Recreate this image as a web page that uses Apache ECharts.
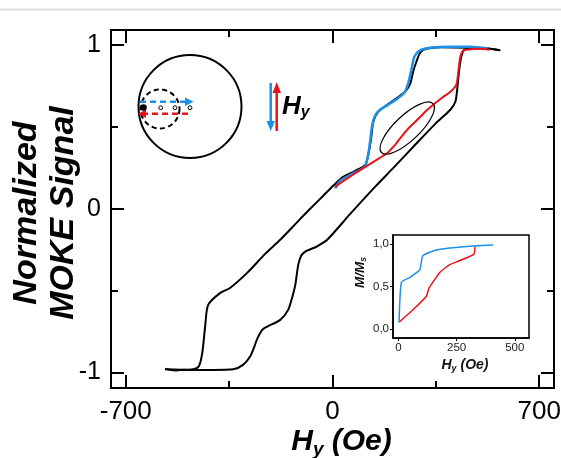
<!DOCTYPE html>
<html><head><meta charset="utf-8">
<script src="https://cdn.jsdelivr.net/npm/echarts@6/dist/echarts.min.js"></script>
<style>html,body{margin:0;padding:0;background:#fff}#c{width:561px;height:458px}</style>
</head><body><div id="c"></div>
<script>
// ---- Data ----
// Main loop, descending branch (H in Oe, normalized MOKE signal)
const hDesc = [568,534,466,365,317,297,284,273,263,246,219,185,155,138,131,121,111,77,36,6,-42,-109,-177,-228,-289,-347,-380,-421,-431,-441,-452,-472,-516,-533,-567];
const mDesc = [0.968,0.977,0.983,0.987,0.977,0.953,0.898,0.837,0.764,0.715,0.678,0.635,0.593,0.531,0.434,0.330,0.269,0.232,0.195,0.147,0.061,-0.061,-0.189,-0.275,-0.391,-0.483,-0.513,-0.586,-0.715,-0.880,-0.959,-0.980,-0.984,-0.987,-0.977];
// Main loop, ascending branch
const hAsc = [-567,-482,-404,-336,-303,-279,-265,-255,-238,-221,-177,-150,-137,-126,-116,-106,-92,-53,-18,60,144,206,280,348,399,416,422,429,436,446,483,534,568];
const mAsc = [-0.980,-0.984,-0.984,-0.980,-0.953,-0.902,-0.843,-0.794,-0.739,-0.719,-0.678,-0.617,-0.544,-0.464,-0.342,-0.287,-0.261,-0.230,-0.189,-0.031,0.134,0.250,0.391,0.519,0.605,0.654,0.727,0.849,0.929,0.971,0.980,0.977,0.968];
// Minor loop, blue branch
const hBlue = [9,26,60,94,111,121,128,134,144,161,188,219,243,256,267,277,294,331,398,466,524];
const mBlue = [0.125,0.171,0.208,0.238,0.263,0.330,0.421,0.507,0.568,0.605,0.635,0.672,0.709,0.764,0.849,0.929,0.965,0.983,0.990,0.990,0.980];
// Minor loop, red branch
const hRed = [9,43,94,144,182,212,233,256,287,314,341,371,399,419,426,432,439,453,500,531];
const mRed = [0.134,0.177,0.238,0.293,0.336,0.391,0.440,0.489,0.544,0.593,0.635,0.678,0.715,0.757,0.837,0.922,0.959,0.971,0.977,0.971];
// Inset M/Ms vs Hy
const insetBlueH = [3,13,50,81,93,104,129,179,279,407];
const insetBlueM = [0.08,0.55,0.61,0.67,0.70,0.86,0.90,0.94,0.97,0.99];
const insetRedH = [3,64,121,131,179,221,257,324,329];
const insetRedM = [0.08,0.23,0.39,0.48,0.67,0.76,0.80,0.88,0.97];
// Tick labels
const xMajorTicks = [-700,0,700];
const xMinorTicks = [-350,350];
const yMajorTicks = [-1,0,1];
const yMinorTicks = [-0.5,0.5];
const insetXTicks = [0,250,500];
const insetYTicks = [0,0.5,1];
// Ellipse annotation centre (data coords)
const ellipseCenter = [253,0.493];

const pairs = (a,b)=>a.map((v,i)=>[v,b[i]]);
const FONT = '"Liberation Sans", Arial, sans-serif';
const BLUE = '#1c8fe6', RED = '#e8141c';

const chart = echarts.init(document.getElementById('c'), null, {renderer:'canvas'});

function mainX(pos, ticks, len, withLabel, name){
  const ax = {type:'value', gridIndex:0, min:-750, max:750, position:pos,
    axisLine:{show:true, onZero:false, lineStyle:{color:'#000', width:2}},
    axisTick:{show:true, inside:true, length:len, customValues:ticks, lineStyle:{color:'#000', width:2}},
    axisLabel: withLabel ? {show:true, customValues:ticks, fontSize:26, color:'#000', margin:11, fontFamily:FONT} : {show:false},
    splitLine:{show:false}};
  if (name) {
    ax.name = '{a|H}{s|y}{a| (Oe)}';
    ax.nameLocation = 'middle';
    ax.nameGap = 37;
    ax.nameMoveOverlap = false;
    ax.nameTextStyle = {padding:[0,0,0,18], rich:{
      a:{fontSize:30, fontWeight:'bold', fontStyle:'italic', fontFamily:FONT, color:'#000', lineHeight:34},
      s:{fontSize:19, fontWeight:'bold', fontStyle:'italic', fontFamily:FONT, color:'#000', lineHeight:19, verticalAlign:'bottom'}}};
  }
  return ax;
}
function mainY(pos, ticks, len, withLabel, name){
  const ax = {type:'value', gridIndex:0, min:-1.094, max:1.092, position:pos,
    axisLine:{show:true, onZero:false, lineStyle:{color:'#000', width:2}},
    axisTick:{show:true, inside:true, length:len, customValues:ticks, lineStyle:{color:'#000', width:2}},
    axisLabel: withLabel ? {show:true, customValues:ticks, fontSize:25, color:'#000', margin:10, fontFamily:FONT} : {show:false},
    splitLine:{show:false}};
  if (name) {
    ax.name = 'Normalized\nMOKE Signal';
    ax.nameLocation = 'middle';
    ax.nameRotate = 90;
    ax.nameGap = 29;
    ax.nameMoveOverlap = false;
    ax.nameTextStyle = {fontSize:34, fontWeight:'bold', fontStyle:'italic', fontFamily:FONT, color:'#000', lineHeight:37, padding:[0,8,0,0]};
  }
  return ax;
}

const option = {
  animation:false,
  backgroundColor:'#fff',
  textStyle:{fontFamily:FONT},
  grid:[
    {left:111, right:7, top:30, bottom:70, outerBoundsMode:'none', containLabel:false},
    {left:393, right:32, top:235, bottom:120, outerBoundsMode:'none', containLabel:false, show:true, backgroundColor:'#fff', borderColor:'#000', borderWidth:1.5}
  ],
  xAxis:[
    mainX('bottom', xMajorTicks, 13, true, true),
    mainX('bottom', xMinorTicks, 7, false, false),
    mainX('top', xMajorTicks, 13, false, false),
    mainX('top', xMinorTicks, 7, false, false),
    {type:'value', gridIndex:1, min:-23, max:561, position:'bottom',
      axisLine:{show:true, onZero:false, lineStyle:{color:'#000', width:1.5}},
      axisTick:{show:true, inside:false, length:3, customValues:insetXTicks, lineStyle:{color:'#000', width:1}},
      axisLabel:{customValues:insetXTicks, fontSize:11.5, color:'#222', margin:4, fontFamily:FONT},
      splitLine:{show:false},
      name:'{a|H}{s|y}{a| (Oe)}', nameLocation:'middle', nameGap:19, nameMoveOverlap:false,
      nameTextStyle:{padding:[0,0,0,8], rich:{
        a:{fontSize:14, fontWeight:'bold', fontStyle:'italic', fontFamily:FONT, color:'#111', lineHeight:16},
        s:{fontSize:9, fontWeight:'bold', fontStyle:'italic', fontFamily:FONT, color:'#111', lineHeight:9, verticalAlign:'bottom'}}}}
  ],
  yAxis:[
    mainY('left', yMajorTicks, 13, true, true),
    mainY('left', yMinorTicks, 7, false, false),
    mainY('right', yMajorTicks, 13, false, false),
    mainY('right', yMinorTicks, 7, false, false),
    {type:'value', gridIndex:1, min:-0.106, max:1.109, position:'left',
      axisLine:{show:true, onZero:false, lineStyle:{color:'#000', width:1.5}},
      axisTick:{show:true, inside:false, length:3, customValues:insetYTicks, lineStyle:{color:'#000', width:1}},
      axisLabel:{customValues:insetYTicks, fontSize:11.5, color:'#222', margin:4, fontFamily:FONT,
        formatter:v=>v.toFixed(1).replace('.', ',')},
      splitLine:{show:false},
      name:'{a|M/M}{s|s}', nameLocation:'middle', nameRotate:90, nameGap:25, nameMoveOverlap:false,
      nameTextStyle:{padding:[0,0,0,28], rich:{
        a:{fontSize:13.5, fontWeight:'bold', fontStyle:'italic', fontFamily:FONT, color:'#111', lineHeight:15},
        s:{fontSize:8.5, fontWeight:'bold', fontStyle:'italic', fontFamily:FONT, color:'#111', lineHeight:8, verticalAlign:'bottom'}}}}
  ],
  series:[
    {type:'line', name:'desc', xAxisIndex:0, yAxisIndex:0, data:pairs(hDesc,mDesc), showSymbol:false, smooth:0.25, z:2,
      lineStyle:{color:'#000', width:2}},
    {type:'line', name:'asc', xAxisIndex:0, yAxisIndex:0, data:pairs(hAsc,mAsc), showSymbol:false, smooth:0.25, z:2,
      lineStyle:{color:'#000', width:2}},
    {type:'line', name:'blue', xAxisIndex:0, yAxisIndex:0, data:pairs(hBlue,mBlue), showSymbol:false, smooth:0.25, z:3,
      lineStyle:{color:BLUE, width:2.5}},
    {type:'line', name:'red', xAxisIndex:0, yAxisIndex:0, data:pairs(hRed,mRed), showSymbol:false, smooth:0.25, z:4,
      lineStyle:{color:RED, width:2}},
    {type:'line', name:'insetRed', xAxisIndex:4, yAxisIndex:4, data:pairs(insetRedH,insetRedM), showSymbol:false, smooth:0.15, z:5,
      lineStyle:{color:RED, width:1.5}},
    {type:'line', name:'insetBlue', xAxisIndex:4, yAxisIndex:4, data:pairs(insetBlueH,insetBlueM), showSymbol:false, smooth:0.15, z:6,
      lineStyle:{color:BLUE, width:1.5}}
  ]
};
chart.setOption(option);

const ec = chart.convertToPixel({gridIndex:0}, ellipseCenter);
const g = [];
// faint page rule at the top
g.push({type:'line', shape:{x1:0,y1:9.5,x2:561,y2:9.5}, style:{stroke:'#dedede', lineWidth:2}, z:1});
// schematic: big circle, dashed circle, arrows, dots
g.push({type:'circle', shape:{cx:190, cy:106.5, r:51.5}, style:{fill:null, stroke:'#000', lineWidth:2}, z:10});
g.push({type:'circle', shape:{cx:160, cy:109, r:19.5}, style:{fill:null, stroke:'#000', lineWidth:2, lineDash:[5,3.5]}, z:10});
g.push({type:'line', shape:{x1:140,y1:101.7,x2:186,y2:101.7}, style:{stroke:BLUE, lineWidth:2.5, lineDash:[6,4]}, z:11});
g.push({type:'polygon', shape:{points:[[185,97.5],[193.5,101.7],[185,106]]}, style:{fill:BLUE}, z:11});
g.push({type:'line', shape:{x1:188,y1:113.7,x2:146,y2:113.7}, style:{stroke:RED, lineWidth:2.5, lineDash:[6,4]}, z:11});
g.push({type:'polygon', shape:{points:[[146,109.5],[138,113.7],[146,118]]}, style:{fill:RED}, z:11});
g.push({type:'circle', shape:{cx:143.5, cy:107.5, r:3.3}, style:{fill:'#000'}, z:12});
[160.7,175,190].forEach(x=>g.push({type:'circle', shape:{cx:x, cy:107.7, r:1.9}, style:{fill:'#fff', stroke:'#000', lineWidth:1}, z:12}));
// field arrows
g.push({type:'line', shape:{x1:270.7,y1:83,x2:270.7,y2:122}, style:{stroke:BLUE, lineWidth:2.5}, z:11});
g.push({type:'polygon', shape:{points:[[266.5,121],[270.7,131],[275,121]]}, style:{fill:BLUE}, z:11});
g.push({type:'line', shape:{x1:276.7,y1:131,x2:276.7,y2:92}, style:{stroke:RED, lineWidth:2.5}, z:11});
g.push({type:'polygon', shape:{points:[[272.5,93],[276.7,82],[281,93]]}, style:{fill:RED}, z:11});
g.push({type:'text', x:282, y:93, z:12, style:{text:'{a|H}{s|y}', rich:{
  a:{fontSize:26, fontWeight:'bold', fontStyle:'italic', fontFamily:FONT, fill:'#000', lineHeight:28},
  s:{fontSize:16, fontWeight:'bold', fontStyle:'italic', fontFamily:FONT, fill:'#000', lineHeight:16, verticalAlign:'bottom'}}}});
// ellipse annotation
g.push({type:'ellipse', x:ec[0], y:ec[1], rotation:43.5*Math.PI/180, shape:{cx:0, cy:0, rx:35.5, ry:12.5},
  style:{fill:null, stroke:'#000', lineWidth:1.2}, z:12});
chart.setOption({graphic:g});
</script></body></html>
